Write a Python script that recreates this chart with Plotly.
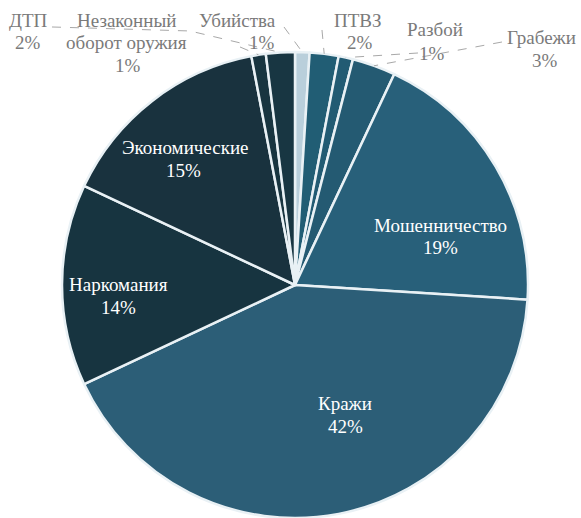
import math
import plotly.graph_objects as go

W, H = 581, 518

# Data (clockwise from 12 o'clock)
categories = ["Убийства", "ПТВЗ", "Разбой", "Грабежи", "Мошенничество",
              "Кражи", "Наркомания", "Экономические",
              "Незаконный оборот оружия", "ДТП"]
values = [1, 2, 1, 3, 19, 42, 14, 15, 1, 2]
label_lines = [["Убийства"], ["ПТВЗ"], ["Разбой"], ["Грабежи"], ["Мошенничество"],
               ["Кражи"], ["Наркомания"], ["Экономические"],
               ["Незаконный", "оборот оружия"], ["ДТП"]]

colors = ["#b9cfdb", "#215d74", "#225b73", "#245a72", "#28607a",
          "#2c5e77", "#173440", "#19323e", "#183540", "#183642"]

FONT = "Liberation Serif, Times New Roman, serif"
FSIZE = 19
LINE = 23

# Pie geometry (pixels)
cx, cy, R = 295, 285, 233
dom_x = [(cx - R) / W, (cx + R) / W]
dom_y = [1 - (cy + R) / H, 1 - (cy - R) / H]
dom_y[0] = max(dom_y[0], 0)

fig = go.Figure(go.Pie(
    labels=categories, values=values, sort=False, direction="clockwise",
    rotation=0, textinfo="none", hoverinfo="label+percent",
    marker=dict(colors=colors, line=dict(color="#e9f1f5", width=2.5)),
    domain=dict(x=dom_x, y=dom_y), showlegend=False,
))

def P(x, y):
    return x / W, 1 - y / H

total = sum(values)
cum = 0
mids = []
for v in values:
    mids.append((cum + v / 2) / total * 2 * math.pi)
    cum += v

def edge(i, rf=1.0):
    a = mids[i]
    return cx + R * rf * math.sin(a), cy - R * rf * math.cos(a)

pct = [f"{round(v / total * 100)}%" for v in values]

# label placement (pixels): index -> (x, y of first line, pct x-offset, inside?)
label_pos = {
    0: (237, 20, 25, False), 1: (358, 20, 2, False), 2: (435, 30, -3, False),
    3: (541, 38, 4, False), 4: (440, 225, 0, True), 5: (345, 403, 0, True),
    6: (118, 284, 0, True), 7: (185, 147, -2, True), 8: (126, 20, 2, False),
    9: (28, 20, 0, False),
}

annotations = []
for i, (x, y, dx, inside) in label_pos.items():
    color = "#ffffff" if inside else "#7a7a7a"
    lines = [(t, x) for t in label_lines[i]] + [(pct[i], x + dx)]
    for k, (t, lx) in enumerate(lines):
        ax, ay = P(lx, y + k * LINE)
        annotations.append(dict(
            x=ax, y=ay, xref="paper", yref="paper", showarrow=False,
            xanchor="center", yanchor="middle", text=t,
            font=dict(family=FONT, size=FSIZE, color=color),
        ))

# dashed leader lines: label-side start points (pixels) -> slice edge
leader_start = {
    0: [(284, 27)],
    1: [(322, 30)],
    2: [(418, 53)],
    3: [(502, 42)],
    8: [(240, 47)],
    9: [(52, 27), (190, 31)],
}
shapes = []
for i, pts in leader_start.items():
    ex, ey = edge(i, 1.0)
    pts = pts + [(ex, ey)]
    path = "M " + " L ".join(f"{px / W:.4f},{1 - py / H:.4f}" for px, py in pts)
    shapes.append(dict(type="path", path=path, xref="paper", yref="paper",
                       line=dict(color="#a8a8a8", width=1, dash="dash")))

fig.update_layout(
    width=W, height=H, margin=dict(l=0, r=0, t=0, b=0),
    paper_bgcolor="#ffffff", plot_bgcolor="#ffffff",
    font=dict(family=FONT),
    annotations=annotations, shapes=shapes,
)
fig.write_html("out.html", config={"displayModeBar": False},
               post_script="document.body.style.margin='0';")
